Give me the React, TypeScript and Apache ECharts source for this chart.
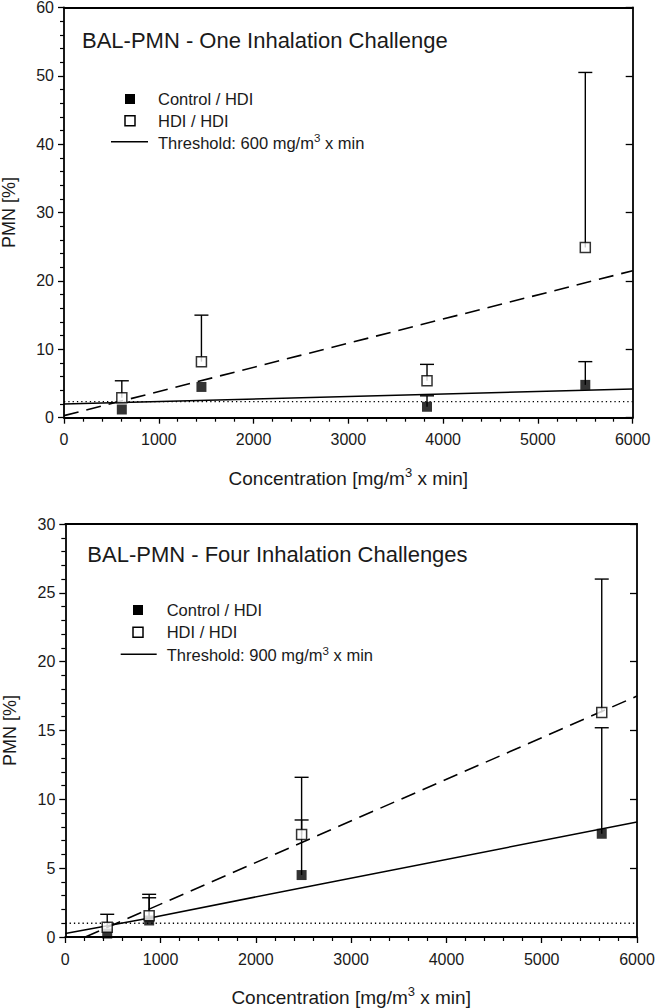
import React, { useEffect, useRef } from "react";
import * as echarts from "echarts";

// ---------- Data: chart 1 (One Inhalation Challenge) ----------
const conc1 = [610, 1450, 3830, 5500];
const ctrl1 = [1.2, 4.5, 1.6, 4.8];
const ctrlUp1: (number | null)[] = [null, null, 3.2, 8.2];
const hdi1 = [2.9, 8.2, 5.4, 24.9];
const hdiUp1 = [5.4, 15.0, 7.8, 50.5];
const dashed1 = [[0, 0.3], [6000, 21.5]];
const solid1 = [[0, 2.0], [6000, 4.2]];
const dotted1 = [[0, 2.35], [6000, 2.35]];

// ---------- Data: chart 2 (Four Inhalation Challenges) ----------
const conc2 = [440, 880, 2480, 5630];
const ctrl2 = [0.25, 1.2, 4.5, 7.5];
const ctrlUp2: (number | null)[] = [null, 2.85, 8.5, 15.2];
const hdi2 = [0.7, 1.55, 7.45, 16.3];
const hdiUp2 = [1.65, 3.1, 11.6, 26.0];
const dashed2 = [[210, 0], [6000, 17.5]];
const solid2 = [[0, 0.25], [900, 1.4], [2500, 3.6], [6000, 8.35]];
const dotted2 = [[0, 1.0], [6000, 1.0]];

const xTicks = { min: 0, max: 6000, interval: 1000 };
const y1Ticks = { min: 0, max: 60, interval: 10 };
const y2Ticks = { min: 0, max: 30, interval: 5 };

const FONT = "Liberation Sans, Arial, Helvetica, sans-serif";
const INK = "#1a1a1a";

function errData(xs: number[], ys: number[], ups: (number | null)[]) {
  const out: number[][] = [];
  xs.forEach((x, i) => {
    const u = ups[i];
    if (u != null) out.push([x, ys[i], u]);
  });
  return out;
}

function pts(xs: number[], ys: number[]) {
  return xs.map((x, i) => [x, ys[i]]);
}

const errRender = (params: any, api: any) => {
  const x = api.value(0);
  const p0 = api.coord([x, api.value(1)]);
  const p1 = api.coord([x, api.value(2)]);
  const st = { stroke: "#000", lineWidth: 1.4 };
  return {
    type: "group",
    children: [
      { type: "line", shape: { x1: p0[0], y1: p0[1], x2: p1[0], y2: p1[1] }, style: st },
      { type: "line", shape: { x1: p1[0] - 7, y1: p1[1], x2: p1[0] + 7, y2: p1[1] }, style: st },
    ],
  };
};

function richSup(base: number, sup: number, lh: number) {
  return {
    b: { fontSize: base, lineHeight: lh, color: INK, fontFamily: FONT, verticalAlign: "bottom" },
    sup: { fontSize: sup, lineHeight: sup, color: INK, fontFamily: FONT, verticalAlign: "top" },
  };
}

function axesFor(gi: number, yT: { min: number; max: number; interval: number }) {
  const lineStyle = { color: "#000", width: 1.8 };
  const xBottom = {
    type: "value",
    gridIndex: gi,
    ...xTicks,
    position: "bottom",
    axisLine: { show: true, onZero: false, lineStyle },
    axisTick: { show: true, inside: false, length: 6, lineStyle: { color: "#000", width: 1.3 } },
    minorTick: { show: true, splitNumber: 5, length: 4, lineStyle: { color: "#000", width: 1.2 } },
    axisLabel: { fontSize: 16, color: INK, fontFamily: FONT, margin: 14, formatter: (v: number) => String(v) },
    splitLine: { show: false },
    name: "{b|Concentration [mg/m}{sup|3}{b| x min]}",
    nameLocation: "middle",
    nameGap: 48,
    nameTextStyle: { fontSize: 19, color: INK, fontFamily: FONT, rich: richSup(19, 13, 22) },
  };
  const xTop = {
    type: "value",
    gridIndex: gi,
    ...xTicks,
    position: "top",
    axisLine: { show: true, onZero: false, lineStyle },
    axisTick: { show: false },
    axisLabel: { show: false },
    splitLine: { show: false },
  };
  const yLeft = {
    type: "value",
    gridIndex: gi,
    ...yT,
    position: "left",
    axisLine: { show: true, onZero: false, lineStyle },
    axisTick: { show: true, inside: false, length: 6, lineStyle: { color: "#000", width: 1.3 } },
    minorTick: { show: true, splitNumber: 5, length: 4, lineStyle: { color: "#000", width: 1.2 } },
    axisLabel: { fontSize: 16, color: INK, fontFamily: FONT, margin: 10, formatter: (v: number) => String(v) },
    splitLine: { show: false },
    name: "PMN [%]",
    nameLocation: "middle",
    nameGap: 46,
    nameTextStyle: { fontSize: 18, color: INK, fontFamily: FONT },
  };
  const yRight = {
    type: "value",
    gridIndex: gi,
    ...yT,
    position: "right",
    axisLine: { show: true, onZero: false, lineStyle },
    axisTick: { show: true, inside: true, length: 7, lineStyle: { color: "#000", width: 1.3 } },
    axisLabel: { show: false },
    splitLine: { show: false },
  };
  return { x: [xBottom, xTop], y: [yLeft, yRight] };
}

function seriesFor(
  xi: number,
  yi: number,
  xs: number[],
  ctrl: number[],
  ctrlUp: (number | null)[],
  hdi: number[],
  hdiUp: number[],
  dashed: number[][],
  solid: number[][],
  dotted: number[][]
) {
  const base = { xAxisIndex: xi, yAxisIndex: yi };
  return [
    {
      ...base,
      type: "line",
      data: dotted,
      symbol: "none",
      lineStyle: { color: "#000", width: 1.3, type: [1.3, 3] },
      z: 2,
    },
    {
      ...base,
      type: "line",
      data: solid,
      symbol: "none",
      lineStyle: { color: "#000", width: 1.5 },
      z: 2,
    },
    {
      ...base,
      type: "line",
      data: dashed,
      symbol: "none",
      lineStyle: { color: "#000", width: 1.6, type: [15, 8] },
      z: 2,
    },
    {
      ...base,
      type: "custom",
      renderItem: errRender,
      data: errData(xs, ctrl, ctrlUp),
      encode: { x: 0, y: [1, 2] },
      z: 3,
    },
    {
      ...base,
      type: "custom",
      renderItem: errRender,
      data: errData(xs, hdi, hdiUp),
      encode: { x: 0, y: [1, 2] },
      z: 3,
    },
    {
      ...base,
      name: "Control / HDI",
      type: "scatter",
      data: pts(xs, ctrl),
      symbol: "rect",
      symbolSize: 10,
      itemStyle: { color: "#000" },
      z: 4,
    },
    {
      ...base,
      name: "HDI / HDI",
      type: "scatter",
      data: pts(xs, hdi),
      symbol: "rect",
      symbolSize: 10,
      itemStyle: { color: "#fff", borderColor: "#000", borderWidth: 1.5 },
      z: 5,
    },
  ];
}

function legendGraphic(
  title: string,
  tx: number,
  ty: number,
  sx: number,
  y1: number,
  y2: number,
  y3: number,
  lx1: number,
  lx2: number,
  textX: number,
  thresholdValue: string
) {
  const ts = (y: number, text: string) => ({
    type: "text",
    x: textX,
    y,
    style: { text, fontSize: 16.5, fill: INK, fontFamily: FONT, verticalAlign: "middle", align: "left" },
    z: 10,
  });
  return [
    {
      type: "text",
      x: tx,
      y: ty,
      style: { text: title, fontSize: 22, fill: INK, fontFamily: FONT, verticalAlign: "middle", align: "left" },
      z: 10,
    },
    { type: "rect", shape: { x: sx - 5, y: y1 - 5, width: 10, height: 10 }, style: { fill: "#000" }, z: 10 },
    {
      type: "rect",
      shape: { x: sx - 5, y: y2 - 5, width: 10, height: 10 },
      style: { fill: "#fff", stroke: "#000", lineWidth: 1.5 },
      z: 10,
    },
    { type: "line", shape: { x1: lx1, y1: y3, x2: lx2, y2: y3 }, style: { stroke: "#000", lineWidth: 1.5 }, z: 10 },
    ts(y1, "Control / HDI"),
    ts(y2, "HDI / HDI"),
    {
      type: "text",
      x: textX,
      y: y3,
      style: {
        text: "{b|Threshold: " + thresholdValue + " mg/m}{sup|3}{b| x min}",
        fontSize: 16.5,
        fill: INK,
        fontFamily: FONT,
        verticalAlign: "middle",
        align: "left",
        rich: richSup(16.5, 11.5, 19),
      },
      z: 10,
    },
  ];
}

export default function App() {
  const ref = useRef<HTMLDivElement>(null);
  useEffect(() => {
    document.body.style.margin = "0";
    if (!ref.current) return;
    const chart = echarts.init(ref.current, undefined, { renderer: "svg" });
    const a1 = axesFor(0, y1Ticks);
    const a2 = axesFor(1, y2Ticks);
    const option: any = {
      animation: false,
      backgroundColor: "#fff",
      grid: [
        { left: 64, top: 7.5, width: 568.7, height: 410.2, containLabel: false, outerBoundsMode: "none" },
        { left: 65.3, top: 524, width: 571.7, height: 413, containLabel: false, outerBoundsMode: "none" },
      ],
      xAxis: [...a1.x, ...a2.x],
      yAxis: [...a1.y, ...a2.y],
      series: [
        ...seriesFor(0, 0, conc1, ctrl1, ctrlUp1, hdi1, hdiUp1, dashed1, solid1, dotted1),
        ...seriesFor(2, 2, conc2, ctrl2, ctrlUp2, hdi2, hdiUp2, dashed2, solid2, dotted2),
      ],
      graphic: [
        ...legendGraphic(
          "BAL-PMN - One Inhalation Challenge",
          82,
          40,
          130,
          99,
          120.7,
          141.7,
          111,
          148,
          158,
          "600"
        ),
        ...legendGraphic(
          "BAL-PMN - Four Inhalation Challenges",
          87.3,
          554.3,
          138,
          610,
          632.3,
          654.3,
          120.7,
          156.7,
          166.7,
          "900"
        ),
      ],
    };
    chart.setOption(option);
    return () => chart.dispose();
  }, []);
  return <div ref={ref} style={{ width: 656, height: 1008, background: "#fff" }} />;
}
